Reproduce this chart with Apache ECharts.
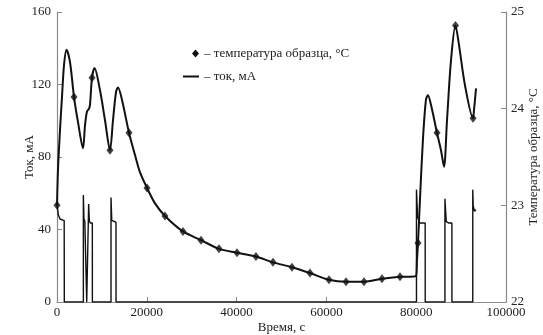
<!DOCTYPE html>
<html>
<head>
<meta charset="utf-8">
<script src="https://cdn.jsdelivr.net/npm/echarts@6/dist/echarts.min.js"></script>
<style>
  html, body { margin: 0; padding: 0; background: #fff; }
  #chart { width: 543px; height: 335px; }
</style>
</head>
<body>
<div id="chart"></div>
<script>
  // температура образца (правая ось), время в секундах
  const tempTime = [0, 220, 670, 1110, 1560, 2120, 2900, 3790, 4680, 5790, 6240, 6680, 7130, 7350, 7800, 8350,
    9580, 10690, 11800, 12470, 13140, 13590, 14480, 16040, 17370, 18490, 20050, 21830, 24050, 28060, 32070,
    36080, 40090, 44310, 48100, 52330, 56340, 60580, 64370, 68370, 72380, 76390, 79950, 80170, 80400, 80840,
    81500, 82170, 82620, 83290, 84630, 85520, 86190, 86860, 87750, 88750, 89530, 90870, 92660, 92880, 93330]
  const tempVal = [23.0, 23.37, 23.78, 24.12, 24.45, 24.61, 24.48, 24.12, 23.86, 23.59, 23.83, 23.97, 24.0, 24.04, 24.32, 24.42,
    24.19, 23.88, 23.57, 23.88, 24.17, 24.22, 24.09, 23.75, 23.52, 23.34, 23.18, 23.02, 22.89, 22.73, 22.64,
    22.55, 22.51, 22.47, 22.41, 22.36, 22.30, 22.23, 22.21, 22.21, 22.24, 22.26, 22.27, 22.43, 22.61, 23.06,
    23.68, 24.09, 24.14, 24.04, 23.75, 23.57, 23.40, 23.88, 24.50, 24.86, 24.66, 24.24, 23.90, 23.99, 24.21]

  // точки-маркеры на кривой температуры
  const markTime = [0, 3790, 7800, 11800, 16040, 20050, 24050, 28060, 32070, 36080, 40090, 44310, 48100,
    52330, 56340, 60580, 64370, 68370, 72380, 76390, 80400, 84630, 88750, 92660]
  const markVal = [23.0, 24.12, 24.32, 23.57, 23.75, 23.18, 22.89, 22.73, 22.64, 22.55, 22.51, 22.47, 22.41,
    22.36, 22.30, 22.23, 22.21, 22.21, 22.24, 22.26, 22.61, 23.75, 24.86, 23.90]

  // ток, мА (левая ось)
  const curTime = [0, 300, 670, 1000, 1600, 1630, 5870, 5870, 6000, 6200, 6600, 6620, 7050, 7050, 7200, 7400,
    7870, 7880, 12030, 12030, 12200, 12400, 13140, 13150, 80060, 80060, 80300, 80800, 82000, 82010, 86400,
    86400, 86700, 87200, 87950, 87960, 92600, 92600, 92700, 93000, 93150, 93300]
  const curVal = [54, 48, 45.8, 45.2, 44.9, 0, 0, 59, 46, 44.5, 44, 0, 0, 54, 45, 43.6,
    43.6, 0, 0, 57.6, 45, 44, 44, 0, 0, 62, 47, 43.6, 43.6, 0, 0,
    57, 44.3, 43.6, 43.6, 0, 0, 62, 53, 50, 49, 51]

  const xTicks = [0, 20000, 40000, 60000, 80000, 100000]
  const serif = 'Liberation Serif'
  const axisGrey = '#8a8a8a'

  const zip = (a, b) => a.map((v, i) => [v, b[i]])

  const chart = echarts.init(document.getElementById('chart'))

  const axisCommon = {
    axisLine: { show: true, lineStyle: { color: axisGrey, width: 1.2 } },
    axisTick: { show: true, inside: true, length: 5, lineStyle: { color: axisGrey } },
    splitLine: { show: false },
    nameMoveOverlap: false,
    axisLabel: { fontFamily: serif, fontSize: 13, color: '#222' },
    nameTextStyle: { fontFamily: serif, fontSize: 13, color: '#222' }
  }

  chart.setOption({
    animation: false,
    grid: { left: 57, right: 37, top: 12, bottom: 33, outerBoundsMode: 'none' },
    legend: [
      {
        left: 187, top: 42, itemWidth: 7, itemHeight: 8, itemGap: 10,
        data: [{ name: 'температура образца, °C', icon: 'diamond' }],
        formatter: (n) => '– ' + n,
        textStyle: { fontFamily: serif, fontSize: 13, color: '#222' }
      },
      {
        left: 178, top: 65, itemWidth: 16, itemHeight: 2,
        data: [{ name: 'ток, мА', icon: 'rect' }],
        formatter: (n) => '– ' + n,
        textStyle: { fontFamily: serif, fontSize: 13, color: '#222' }
      }
    ],
    xAxis: {
      ...axisCommon,
      type: 'value', min: 0, max: 100000, interval: 20000,
      name: 'Время, с', nameLocation: 'middle', nameGap: 19,
      axisLabel: { ...axisCommon.axisLabel, margin: 4,
        formatter: (v) => xTicks.includes(v) ? String(v) : '' }
    },
    yAxis: [
      {
        ...axisCommon,
        type: 'value', min: 0, max: 160, interval: 40,
        name: 'Ток, мА', nameLocation: 'middle', nameGap: 21,
        axisLabel: { ...axisCommon.axisLabel, margin: 6 }
      },
      {
        ...axisCommon,
        type: 'value', min: 22, max: 25, interval: 1, position: 'right',
        name: 'Температура образца, °C', nameLocation: 'middle', nameGap: 21,
        nameRotate: 90,
        axisLabel: { ...axisCommon.axisLabel, margin: 5 }
      }
    ],
    series: [
      {
        name: 'ток, мА', type: 'line', yAxisIndex: 0,
        data: zip(curTime, curVal), symbol: 'none',
        lineStyle: { color: '#111', width: 1.4 }, itemStyle: { color: '#111' }
      },
      {
        name: 'температура образца, °C', type: 'line', yAxisIndex: 1,
        data: zip(tempTime, tempVal), symbol: 'none', smooth: 0.3,
        lineStyle: { color: '#111', width: 2 }, itemStyle: { color: '#111' }
      },
      {
        name: 'температура образца, °C', type: 'scatter', yAxisIndex: 1,
        data: zip(markTime, markVal), symbol: 'diamond', symbolSize: [7, 9],
        itemStyle: { color: '#111' }
      }
    ]
  })
</script>
</body>
</html>
